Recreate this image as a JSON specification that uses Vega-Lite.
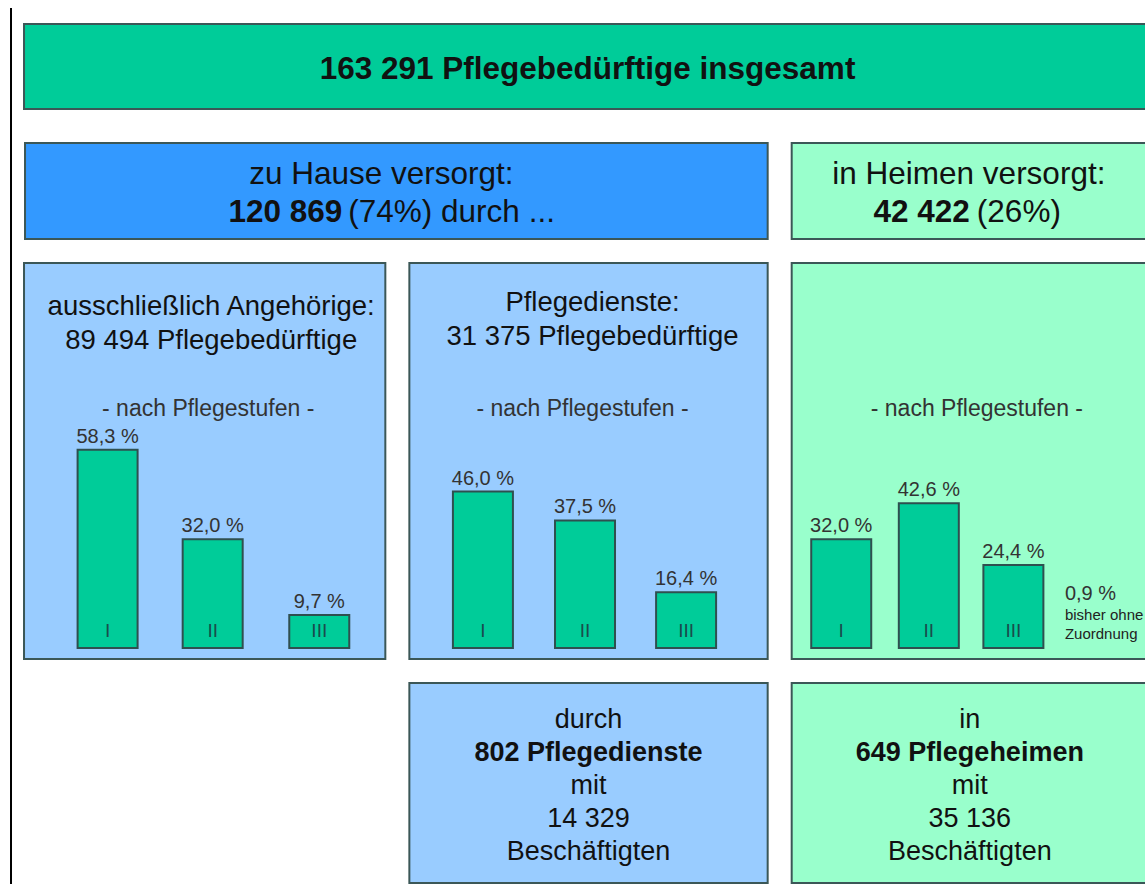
{
  "$schema": "https://vega.github.io/schema/vega-lite/v6.json",
  "autosize": {"type": "none"},
  "width": 1145,
  "height": 885,
  "padding": 0,
  "background": "white",
  "config": {
    "view": {"stroke": null},
    "font": "Liberation Sans",
    "text": {"font": "Liberation Sans", "color": "#111111"}
  },
  "datasets": {
    "frame": [{"part": "left line", "x": 10, "y": 8, "y2": 884}],
    "boxes": [
      {"box": "insgesamt", "group": "total", "x1": 23, "x2": 1150, "y1": 24, "y2": 109},
      {"box": "zu Hause", "group": "home", "x1": 24, "x2": 766, "y1": 143, "y2": 239},
      {"box": "in Heimen", "group": "stationaer", "x1": 790, "x2": 1150, "y1": 143, "y2": 239},
      {"box": "Angehörige", "group": "ambulant", "x1": 23, "x2": 384, "y1": 263, "y2": 659},
      {"box": "Pflegedienste", "group": "ambulant", "x1": 408, "x2": 766, "y1": 263, "y2": 659},
      {"box": "Heime", "group": "stationaer", "x1": 790, "x2": 1150, "y1": 263, "y2": 659},
      {"box": "Dienste", "group": "ambulant", "x1": 408, "x2": 766, "y1": 683, "y2": 883},
      {"box": "Pflegeheime", "group": "stationaer", "x1": 790, "x2": 1150, "y1": 683, "y2": 883}
    ],
    "stufen": [
      {"panel": "Angehörige", "stufe": "I", "pct": 58.3, "bx": 106.5},
      {"panel": "Angehörige", "stufe": "II", "pct": 32.0, "bx": 211.5},
      {"panel": "Angehörige", "stufe": "III", "pct": 9.7, "bx": 318},
      {"panel": "Pflegedienste", "stufe": "I", "pct": 46.0, "bx": 481.5},
      {"panel": "Pflegedienste", "stufe": "II", "pct": 37.5, "bx": 583.5},
      {"panel": "Pflegedienste", "stufe": "III", "pct": 16.4, "bx": 684.5},
      {"panel": "Heime", "stufe": "I", "pct": 32.0, "bx": 839.5},
      {"panel": "Heime", "stufe": "II", "pct": 42.6, "bx": 927},
      {"panel": "Heime", "stufe": "III", "pct": 24.4, "bx": 1011.5}
    ],
    "texts": [
      {"role": "title", "text": "163 291 Pflegebedürftige insgesamt", "x": 586, "y": 79},
      {"role": "big", "text": "zu Hause versorgt:", "x": 380, "y": 184},
      {"role": "big", "text": "in Heimen versorgt:", "x": 967, "y": 184},
      {"role": "bigBoldRight", "text": "120 869", "x": 341, "y": 222},
      {"role": "bigLeft", "text": "(74%) durch ...", "x": 347, "y": 222},
      {"role": "bigBoldRight", "text": "42 422", "x": 968, "y": 222},
      {"role": "bigLeft", "text": "(26%)", "x": 975, "y": 222},
      {"role": "head", "text": "ausschließlich Angehörige:", "x": 210, "y": 315},
      {"role": "head", "text": "89 494 Pflegebedürftige", "x": 210, "y": 349},
      {"role": "head", "text": "Pflegedienste:", "x": 591, "y": 311},
      {"role": "head", "text": "31 375 Pflegebedürftige", "x": 591, "y": 345},
      {"role": "sub", "text": "- nach Pflegestufen -", "x": 207, "y": 416},
      {"role": "sub", "text": "- nach Pflegestufen -", "x": 581, "y": 416},
      {"role": "sub", "text": "- nach Pflegestufen -", "x": 975, "y": 416},
      {"role": "note", "text": "0,9 %", "x": 1063, "y": 600},
      {"role": "small", "text": "bisher ohne", "x": 1063, "y": 620},
      {"role": "small", "text": "Zuordnung", "x": 1063, "y": 639},
      {"role": "bottom", "text": "durch", "x": 587, "y": 728},
      {"role": "bottomBold", "text": "802 Pflegedienste", "x": 587, "y": 761},
      {"role": "bottom", "text": "mit", "x": 587, "y": 794},
      {"role": "bottom", "text": "14 329", "x": 587, "y": 827},
      {"role": "bottom", "text": "Beschäftigten", "x": 587, "y": 860},
      {"role": "bottom", "text": "in", "x": 968, "y": 728},
      {"role": "bottomBold", "text": "649 Pflegeheimen", "x": 968, "y": 761},
      {"role": "bottom", "text": "mit", "x": 968, "y": 794},
      {"role": "bottom", "text": "35 136", "x": 968, "y": 827},
      {"role": "bottom", "text": "Beschäftigten", "x": 968, "y": 860}
    ]
  },
  "resolve": {"scale": {"y": "independent", "x": "shared"}},
  "layer": [
    {
      "data": {"name": "frame"},
      "mark": {"type": "rule", "color": "#000000", "strokeWidth": 2},
      "encoding": {
        "x": {"field": "x", "type": "quantitative", "axis": null, "scale": {"domain": [4, 1138], "nice": false, "zero": false}},
        "y": {"field": "y", "type": "quantitative", "axis": null, "scale": {"domain": [0, 885], "reverse": true, "nice": false, "zero": false}},
        "y2": {"field": "y2"}
      }
    },
    {
      "data": {"name": "boxes"},
      "mark": {"type": "rect", "stroke": "#3b5757", "strokeWidth": 2},
      "encoding": {
        "x": {"field": "x1", "type": "quantitative", "axis": null, "scale": {"domain": [4, 1138], "nice": false, "zero": false}},
        "x2": {"field": "x2"},
        "y": {"field": "y1", "type": "quantitative", "axis": null, "scale": {"domain": [0, 885], "reverse": true, "nice": false, "zero": false}},
        "y2": {"field": "y2"},
        "fill": {"field": "group", "type": "nominal", "legend": null,
          "scale": {"domain": ["total", "home", "ambulant", "stationaer"], "range": ["#00CC99", "#3399FF", "#99CCFF", "#99FFCC"]}}
      }
    },
    {
      "data": {"name": "stufen"},
      "mark": {"type": "bar", "width": 60, "fill": "#00CC99", "stroke": "#2f4f4f", "strokeWidth": 2},
      "encoding": {
        "x": {"field": "bx", "type": "quantitative", "axis": null, "scale": {"domain": [4, 1138], "nice": false, "zero": false}},
        "y": {"field": "pct", "type": "quantitative", "axis": null, "scale": {"domain": [-69.706, 190.588], "nice": false, "zero": false}},
        "y2": {"datum": 0}
      }
    },
    {
      "data": {"name": "stufen"},
      "transform": [{"calculate": "replace(format(datum.pct, '.1f'), '.', ',') + ' %'", "as": "label"}],
      "mark": {"type": "text", "fontSize": 20, "align": "center", "baseline": "alphabetic", "dy": -7, "color": "#333333"},
      "encoding": {
        "x": {"field": "bx", "type": "quantitative", "axis": null, "scale": {"domain": [4, 1138], "nice": false, "zero": false}},
        "y": {"field": "pct", "type": "quantitative", "axis": null, "scale": {"domain": [-69.706, 190.588], "nice": false, "zero": false}},
        "text": {"field": "label"}
      }
    },
    {
      "data": {"name": "stufen"},
      "mark": {"type": "text", "fontSize": 19, "align": "center", "baseline": "alphabetic", "dy": -11, "color": "#1a4d4d"},
      "encoding": {
        "x": {"field": "bx", "type": "quantitative", "axis": null, "scale": {"domain": [4, 1138], "nice": false, "zero": false}},
        "y": {"datum": 0, "type": "quantitative", "axis": null, "scale": {"domain": [-69.706, 190.588], "nice": false, "zero": false}},
        "text": {"field": "stufe"}
      }
    },
    {
      "data": {"name": "texts"},
      "transform": [{"filter": "datum.role === 'title'"}],
      "mark": {"type": "text", "fontSize": 31.5, "fontWeight": "bold", "align": "center", "baseline": "alphabetic"},
      "encoding": {
        "x": {"field": "x", "type": "quantitative", "axis": null, "scale": {"domain": [4, 1138], "nice": false, "zero": false}},
        "y": {"field": "y", "type": "quantitative", "axis": null, "scale": {"domain": [0, 885], "reverse": true, "nice": false, "zero": false}},
        "text": {"field": "text"}
      }
    },
    {
      "data": {"name": "texts"},
      "transform": [{"filter": "datum.role === 'big'"}],
      "mark": {"type": "text", "fontSize": 31.5, "align": "center", "baseline": "alphabetic"},
      "encoding": {
        "x": {"field": "x", "type": "quantitative", "axis": null, "scale": {"domain": [4, 1138], "nice": false, "zero": false}},
        "y": {"field": "y", "type": "quantitative", "axis": null, "scale": {"domain": [0, 885], "reverse": true, "nice": false, "zero": false}},
        "text": {"field": "text"}
      }
    },
    {
      "data": {"name": "texts"},
      "transform": [{"filter": "datum.role === 'bigBoldRight'"}],
      "mark": {"type": "text", "fontSize": 31.5, "fontWeight": "bold", "align": "right", "baseline": "alphabetic"},
      "encoding": {
        "x": {"field": "x", "type": "quantitative", "axis": null, "scale": {"domain": [4, 1138], "nice": false, "zero": false}},
        "y": {"field": "y", "type": "quantitative", "axis": null, "scale": {"domain": [0, 885], "reverse": true, "nice": false, "zero": false}},
        "text": {"field": "text"}
      }
    },
    {
      "data": {"name": "texts"},
      "transform": [{"filter": "datum.role === 'bigLeft'"}],
      "mark": {"type": "text", "fontSize": 31.5, "align": "left", "baseline": "alphabetic"},
      "encoding": {
        "x": {"field": "x", "type": "quantitative", "axis": null, "scale": {"domain": [4, 1138], "nice": false, "zero": false}},
        "y": {"field": "y", "type": "quantitative", "axis": null, "scale": {"domain": [0, 885], "reverse": true, "nice": false, "zero": false}},
        "text": {"field": "text"}
      }
    },
    {
      "data": {"name": "texts"},
      "transform": [{"filter": "datum.role === 'head'"}],
      "mark": {"type": "text", "fontSize": 27.5, "align": "center", "baseline": "alphabetic"},
      "encoding": {
        "x": {"field": "x", "type": "quantitative", "axis": null, "scale": {"domain": [4, 1138], "nice": false, "zero": false}},
        "y": {"field": "y", "type": "quantitative", "axis": null, "scale": {"domain": [0, 885], "reverse": true, "nice": false, "zero": false}},
        "text": {"field": "text"}
      }
    },
    {
      "data": {"name": "texts"},
      "transform": [{"filter": "datum.role === 'sub'"}],
      "mark": {"type": "text", "fontSize": 23, "align": "center", "baseline": "alphabetic", "color": "#333333"},
      "encoding": {
        "x": {"field": "x", "type": "quantitative", "axis": null, "scale": {"domain": [4, 1138], "nice": false, "zero": false}},
        "y": {"field": "y", "type": "quantitative", "axis": null, "scale": {"domain": [0, 885], "reverse": true, "nice": false, "zero": false}},
        "text": {"field": "text"}
      }
    },
    {
      "data": {"name": "texts"},
      "transform": [{"filter": "datum.role === 'note'"}],
      "mark": {"type": "text", "fontSize": 20, "align": "left", "baseline": "alphabetic", "color": "#333333"},
      "encoding": {
        "x": {"field": "x", "type": "quantitative", "axis": null, "scale": {"domain": [4, 1138], "nice": false, "zero": false}},
        "y": {"field": "y", "type": "quantitative", "axis": null, "scale": {"domain": [0, 885], "reverse": true, "nice": false, "zero": false}},
        "text": {"field": "text"}
      }
    },
    {
      "data": {"name": "texts"},
      "transform": [{"filter": "datum.role === 'small'"}],
      "mark": {"type": "text", "fontSize": 15, "align": "left", "baseline": "alphabetic", "color": "#222222"},
      "encoding": {
        "x": {"field": "x", "type": "quantitative", "axis": null, "scale": {"domain": [4, 1138], "nice": false, "zero": false}},
        "y": {"field": "y", "type": "quantitative", "axis": null, "scale": {"domain": [0, 885], "reverse": true, "nice": false, "zero": false}},
        "text": {"field": "text"}
      }
    },
    {
      "data": {"name": "texts"},
      "transform": [{"filter": "datum.role === 'bottom'"}],
      "mark": {"type": "text", "fontSize": 27, "align": "center", "baseline": "alphabetic"},
      "encoding": {
        "x": {"field": "x", "type": "quantitative", "axis": null, "scale": {"domain": [4, 1138], "nice": false, "zero": false}},
        "y": {"field": "y", "type": "quantitative", "axis": null, "scale": {"domain": [0, 885], "reverse": true, "nice": false, "zero": false}},
        "text": {"field": "text"}
      }
    },
    {
      "data": {"name": "texts"},
      "transform": [{"filter": "datum.role === 'bottomBold'"}],
      "mark": {"type": "text", "fontSize": 27, "fontWeight": "bold", "align": "center", "baseline": "alphabetic"},
      "encoding": {
        "x": {"field": "x", "type": "quantitative", "axis": null, "scale": {"domain": [4, 1138], "nice": false, "zero": false}},
        "y": {"field": "y", "type": "quantitative", "axis": null, "scale": {"domain": [0, 885], "reverse": true, "nice": false, "zero": false}},
        "text": {"field": "text"}
      }
    }
  ]
}
